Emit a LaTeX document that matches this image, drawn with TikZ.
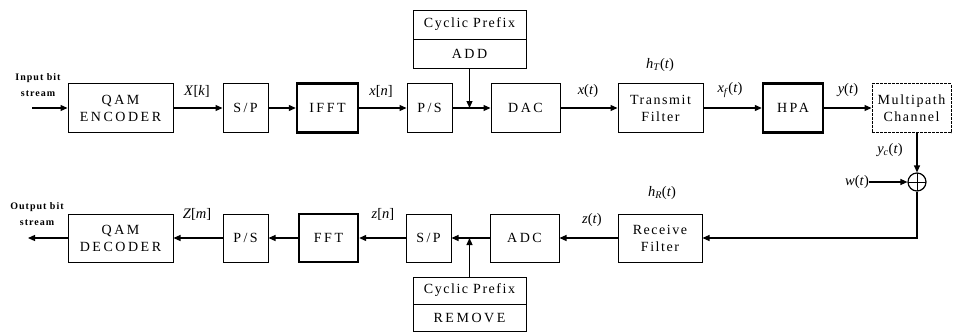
\documentclass[tikz,border=0pt]{standalone}
\usepackage{fontspec}
\setmainfont{Liberation Serif}
\usetikzlibrary{arrows.meta}
\begin{document}
\begin{tikzpicture}[x=1pt,y=-1pt,
  blk/.style={draw,line width=1pt,inner sep=0pt,align=center,
    font=\fontsize{14}{17}\selectfont\addfontfeature{LetterSpace=11}},
  capblk/.style={blk,font=\fontsize{14}{17}\selectfont\addfontfeature{LetterSpace=18}},
  thickblk/.style={line width=2.4pt},
  arr/.style={-{Triangle[length=7pt,width=6pt]},line width=1.2pt},
  lbl/.style={inner sep=0pt,font=\fontsize{14.5}{16}\selectfont},
  smalltxt/.style={inner sep=0pt,align=center,font=\fontsize{10}{16}\selectfont\bfseries\addfontfeature{LetterSpace=10}},
  sumnode/.style={draw,circle,line width=1.2pt,minimum size=18pt,inner sep=0pt,
    path picture={\draw[line width=1pt] (path picture bounding box.north) -- (path picture bounding box.south)
      (path picture bounding box.west) -- (path picture bounding box.east);}}
]
\useasboundingbox (0,0) rectangle (953,333);
% top row
\node[capblk,minimum width=105pt,minimum height=49pt] (enc) at (120.5,108) {QAM\\ENCODER};
\node[capblk,minimum width=45pt,minimum height=49pt] (sp1) at (245.5,108) {S/P};
\node[capblk,thickblk,minimum width=61pt,minimum height=49pt] (ifft) at (327.5,108) {IFFT};
\node[capblk,minimum width=45pt,minimum height=49pt] (ps1) at (429.5,108) {P/S};
\node[capblk,minimum width=69pt,minimum height=49pt] (dac) at (525.5,108) {DAC};
\node[blk,minimum width=85pt,minimum height=49pt] (tf) at (660.5,108) {Transmit\\Filter};
\node[capblk,thickblk,minimum width=60pt,minimum height=49pt] (hpa) at (793,108) {HPA};
\node[blk,dash pattern=on 3pt off 1pt,minimum width=79pt,minimum height=49pt] (mc) at (911.5,108) {Multipath\\Channel};
\node[blk,minimum width=113pt,minimum height=29pt] (cpa) at (469.5,24.5) {Cyclic Prefix};
\node[capblk,minimum width=113pt,minimum height=29pt] (add) at (469.5,53.5) {ADD};
\coordinate (j1) at (add.south |- ps1.east);
% bottom row
\node[blk,minimum width=84pt,minimum height=48pt] (rf) at (660,238) {Receive\\Filter};
\node[capblk,minimum width=69pt,minimum height=48pt] (adc) at (524.5,238) {ADC};
\node[capblk,minimum width=45pt,minimum height=48pt] (sp2) at (428.5,238) {S/P};
\node[capblk,thickblk,minimum width=59pt,minimum height=48pt] (fft) at (328.5,238) {FFT};
\node[capblk,minimum width=45pt,minimum height=48pt] (ps2) at (245.5,238) {P/S};
\node[capblk,minimum width=105pt,minimum height=48pt] (dec) at (120.5,238) {QAM\\DECODER};
\node[blk,minimum width=113pt,minimum height=27pt] (cpr) at (469.5,290.5) {Cyclic Prefix};
\node[capblk,minimum width=113pt,minimum height=27pt] (rem) at (469.5,317.5) {REMOVE};
\coordinate (j2) at (cpr.north |- adc.west);
% adder
\node[sumnode] (sum) at (917,182) {};
\coordinate (mcb) at (sum |- mc.south);
\node[lbl] (wl) at (857,182) {\textit{w}(\textit{t})};
% in / out
\node[smalltxt] (inl) at (38,85) {Input bit\\stream};
\node[smalltxt] (outl) at (37,214) {Output bit\\stream};
\coordinate (inp) at (32,108);
\coordinate (outp) at (28,238);
% connectors top
\draw[arr] (inp) -- (enc.west);
\draw[arr] (enc.east) -- (sp1.west);
\draw[arr] (sp1.east) -- (ifft.west);
\draw[arr] (ifft.east) -- (ps1.west);
\draw[arr] (ps1.east) -- (dac.west);
\draw[arr] (add.south) -- (j1);
\draw[arr] (dac.east) -- (tf.west);
\draw[arr] (tf.east) -- (hpa.west);
\draw[arr] (hpa.east) -- (mc.west);
\draw[arr] (mcb) -- (sum.north);
\draw[arr] (wl.east) -- (sum.west);
\draw[arr] (sum.south) |- (rf.east);
% connectors bottom
\draw[arr] (rf.west) -- (adc.east);
\draw[arr] (adc.west) -- (sp2.east);
\draw[arr] (cpr.north) -- (j2);
\draw[arr] (sp2.west) -- (fft.east);
\draw[arr] (fft.west) -- (ps2.east);
\draw[arr] (ps2.west) -- (dec.east);
\draw[arr] (dec.west) -- (outp);
% labels
\node[lbl] (lXk) at (197,91) {\textit{X}[\textit{k}]};
\node[lbl] (lxn) at (381,91) {\textit{x}[\textit{n}]};
\node[lbl] (lxt) at (588,91) {\textit{x}(\textit{t})};
\node[lbl] (lxf) at (730,90) {\textit{x}\textsubscript{\textit{f}}(\textit{t})};
\node[lbl] (lyt) at (848,90) {\textit{y}(\textit{t})};
\node[lbl] (lhT) at (660,65) {\textit{h}\textsubscript{\textit{T}}(\textit{t})};
\node[lbl] (lyc) at (890,150) {\textit{y}\textsubscript{\textit{c}}(\textit{t})};
\node[lbl] (lhR) at (662,193) {\textit{h}\textsubscript{\textit{R}}(\textit{t})};
\node[lbl] (lzt) at (592,220) {\textit{z}(\textit{t})};
\node[lbl] (lzn) at (383,214) {\textit{z}[\textit{n}]};
\node[lbl] (lZm) at (197,214) {\textit{Z}[\textit{m}]};
\end{tikzpicture}
\end{document}
